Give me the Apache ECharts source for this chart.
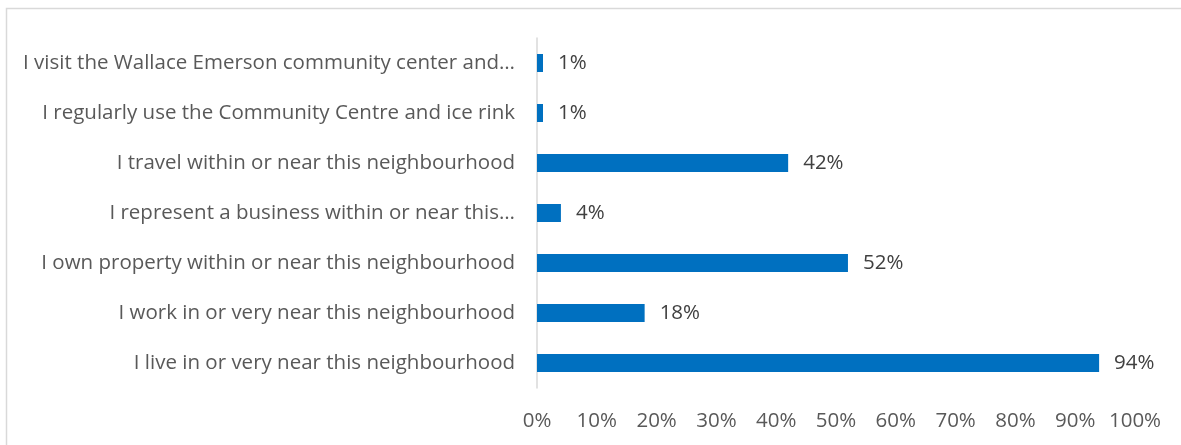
<!DOCTYPE html>
<html>
<head>
<meta charset="utf-8">
<script src="https://cdn.jsdelivr.net/npm/echarts@6/dist/echarts.min.js"></script>
<style>
html,body{margin:0;padding:0;background:#fff;}
#main{width:1181px;height:445px;}
</style>
</head>
<body>
<div id="main"></div>
<script>
const categories = [
  "I live in or very near this neighbourhood",
  "I work in or very near this neighbourhood",
  "I own property within or near this neighbourhood",
  "I represent a business within or near this…",
  "I travel within or near this neighbourhood",
  "I regularly use the Community Centre and ice rink",
  "I visit the Wallace Emerson community center and…"
];
const values = [94, 18, 52, 4, 42, 1, 1];
const xTicks = [0, 10, 20, 30, 40, 50, 60, 70, 80, 90, 100];

const FONT = "Open Sans";
const chart = echarts.init(document.getElementById('main'));
chart.setOption({
  animation: false,
  textStyle: { fontFamily: FONT },
  graphic: [{
    type: 'rect',
    shape: { x: 6.5, y: 8.5, width: 1300, height: 600 },
    style: { fill: 'none', stroke: '#d9d9d9', lineWidth: 1.5 },
    silent: true
  }],
  grid: { left: 537, right: 46, top: 38, bottom: 57, containLabel: false },
  xAxis: {
    type: 'value',
    min: xTicks[0],
    max: xTicks[xTicks.length - 1],
    interval: 10,
    axisLine: { show: false },
    axisTick: { show: false },
    splitLine: { show: false },
    axisLabel: {
      formatter: v => v + '%',
      color: '#595959',
      fontSize: 20.5,
      fontFamily: FONT,
      margin: 23
    }
  },
  yAxis: {
    type: 'category',
    data: categories,
    axisLine: { show: true, lineStyle: { color: '#d9d9d9', width: 1.5 } },
    axisTick: { show: false },
    axisLabel: {
      color: '#595959',
      fontSize: 20.5,
      fontFamily: FONT,
      margin: 22
    }
  },
  series: [{
    type: 'bar',
    data: values,
    barWidth: 18,
    itemStyle: { color: '#0070c0' },
    label: {
      show: true,
      position: 'right',
      distance: 15,
      formatter: p => p.value + '%',
      color: '#404040',
      fontSize: 20.5,
      fontFamily: FONT
    }
  }]
});
</script>
</body>
</html>
